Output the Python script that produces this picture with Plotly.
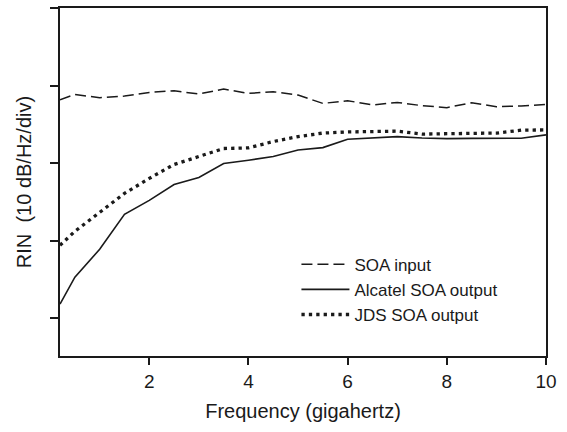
import plotly.graph_objects as go

freq = [0.2, 0.5, 1.0, 1.5, 2.0, 2.5, 3.0, 3.5, 4.0, 4.5, 5.0, 5.5, 6.0, 6.5, 7.0, 7.5, 8.0, 8.5, 9.0, 9.5, 10.0]
soa_input = [2.817, 2.885, 2.842, 2.864, 2.911, 2.932, 2.890, 2.954, 2.898, 2.920, 2.877,
             2.769, 2.804, 2.749, 2.782, 2.740, 2.714, 2.778, 2.727, 2.736, 2.756]
alcatel_out = [0.18, 0.527, 0.887, 1.338, 1.518, 1.723, 1.814, 1.994, 2.036, 2.084, 2.167,
               2.199, 2.306, 2.322, 2.341, 2.322, 2.315, 2.318, 2.319, 2.319, 2.363]
jds_out = [0.939, 1.119, 1.363, 1.608, 1.801, 1.981, 2.084, 2.187, 2.195, 2.277, 2.341,
           2.386, 2.401, 2.411, 2.411, 2.373, 2.373, 2.383, 2.386, 2.424, 2.427]

series_names = ["SOA input", "Alcatel SOA output", "JDS SOA output"]
x_ticks = [2, 4, 6, 8, 10]
y_ticks = [0, 1, 2, 3, 4]

ink = "#1a1a1a"
fig = go.Figure()
fig.add_trace(go.Scatter(x=freq, y=soa_input, mode="lines", name=series_names[0],
                         line=dict(color=ink, width=1.5, dash="11px,5px")))
fig.add_trace(go.Scatter(x=freq, y=alcatel_out, mode="lines", name=series_names[1],
                         line=dict(color=ink, width=1.6)))
fig.add_trace(go.Scatter(x=freq, y=jds_out, mode="lines", name=series_names[2],
                         line=dict(color=ink, width=3.3, dash="3.3px,4.1px")))

font = "Liberation Sans, Arial, sans-serif"
fig.update_layout(
    width=567, height=432,
    margin=dict(l=60, r=21, t=6, b=76),
    paper_bgcolor="white", plot_bgcolor="white",
    font=dict(family=font, color=ink),
    showlegend=True,
    legend=dict(x=0.4865, y=0.314, xanchor="left", yanchor="top",
                bgcolor="rgba(0,0,0,0)", borderwidth=0, itemwidth=48,
                font=dict(size=17, family=font, color=ink), tracegroupgap=0),
    xaxis=dict(range=[0.2, 10], tickvals=x_ticks, ticktext=[str(v) for v in x_ticks],
               showline=True, linecolor=ink, linewidth=1.5, mirror=True,
               ticks="outside", ticklen=7, tickwidth=1.5, tickcolor=ink,
               showgrid=False, zeroline=False,
               tickfont=dict(size=19, family=font, color=ink),
               title=dict(text="Frequency (gigahertz)", font=dict(size=20, family=font, color=ink), standoff=13)),
    yaxis=dict(range=[-0.49, 4], tickvals=y_ticks, showticklabels=False,
               showline=True, linecolor=ink, linewidth=1.5, mirror=True,
               ticks="outside", ticklen=8, tickwidth=1.5, tickcolor=ink,
               showgrid=False, zeroline=False,
               title=dict(text="RIN\u00a0 (10 dB/Hz/div)", font=dict(size=20, family=font, color=ink), standoff=13)),
)
fig.write_html("out.html")
